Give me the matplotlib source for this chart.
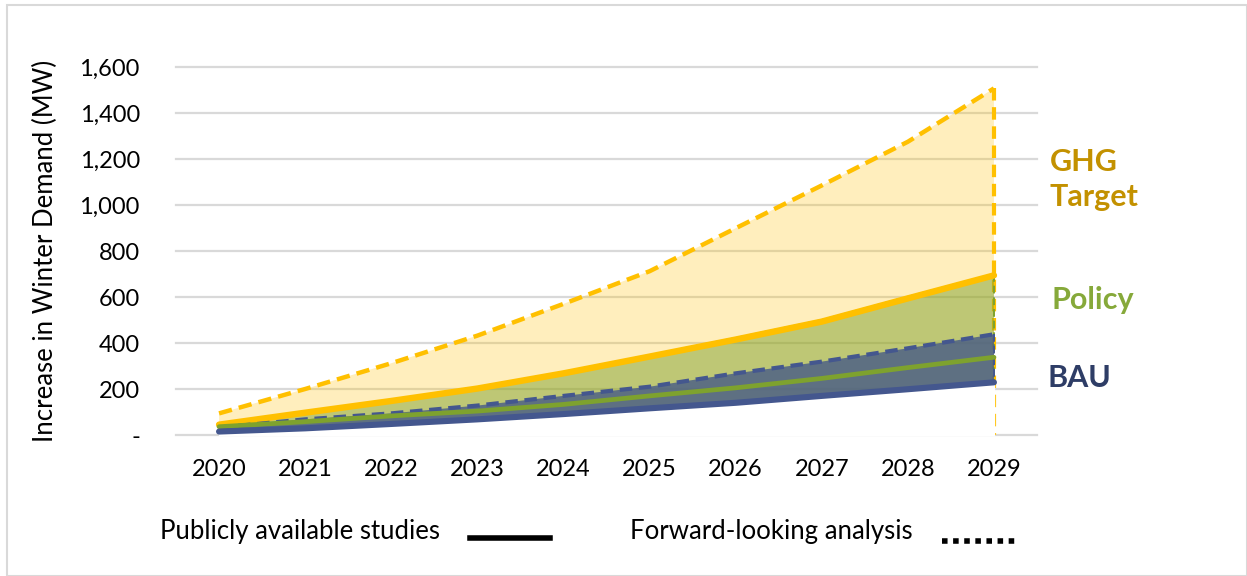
import numpy as np
import matplotlib
matplotlib.use('Agg')
import matplotlib.pyplot as plt
from matplotlib.lines import Line2D
from matplotlib.patches import Rectangle

plt.rcParams['font.family'] = ['Lato', 'DejaVu Sans']

# data (MW)
years = [2020, 2021, 2022, 2023, 2024, 2025, 2026, 2027, 2028, 2029]
ghg_forward = [94, 200, 312, 432, 570, 712, 899, 1085, 1275, 1507]
ghg_public = [45, 97, 148, 202, 268, 341, 415, 493, 594, 694]
policy_forward = [50, 102, 153, 208, 274, 347, 422, 500, 601, 700]
policy_public = [36, 58, 83, 104, 133, 170, 205, 246, 293, 338]
bau_forward = [32, 68, 94, 128, 170, 210, 268, 319, 377, 438]
bau_public = [15, 29, 48, 68, 91, 116, 140, 170, 199, 229]

yticks = [0, 200, 400, 600, 800, 1000, 1200, 1400, 1600]
ytick_labels = ['-', '200', '400', '600', '800', '1,000', '1,200', '1,400', '1,600']

W, H = 1247, 576
fig = plt.figure(figsize=(W / 100, H / 100), dpi=100)
ax = fig.add_axes([176 / W, (H - 435) / H, 861 / W, 368 / H])

orange = '#FFC000'
green = '#7EA22E'
navy = '#44578E'

x = np.array(years, dtype=float)


def area(vals, face, edge, lw, dash, z):
    # fill + outline on the right edge and the baseline (Excel area border)
    ax.fill_between(x, 0, vals, facecolor=face, edgecolor='none', zorder=z)
    ax.plot([x[-1], x[-1], x[0]], [vals[-1], 0, 0], color=edge, lw=lw,
            ls=(0, dash), zorder=z + 0.5)


# filled areas (forward-looking envelopes)
area(ghg_forward, (1.0, 0.753, 0.0, 0.26), orange, 3.0, (3, 1.6), 2)
area(policy_forward, (0.494, 0.635, 0.18, 0.5), green, 1.4, (4, 2), 3)
area(bau_forward, (0.275, 0.353, 0.525, 0.8), navy, 1.4, (4, 2), 4)
ax.fill_between(x, 0, bau_public, color='white', zorder=5)

# lines
ax.plot(x, ghg_forward, color=orange, lw=3.2, ls=(0, (3, 1.6)), zorder=6)
ax.plot(x, policy_forward, color=green, lw=1.4, ls=(0, (4, 2)), zorder=6)
ax.plot(x, ghg_public, color=orange, lw=4.6, solid_capstyle='round', zorder=7)
ax.plot(x, bau_forward, color=navy, lw=3.0, ls=(0, (3, 1.6)), zorder=7)
ax.plot(x, policy_public, color=green, lw=3.4, solid_capstyle='round', zorder=8)
ax.plot(x, bau_public, color=navy, lw=4.4, solid_capstyle='round', zorder=8)

# axes styling
ax.set_xlim(2019.5, 2029.5)
ax.set_ylim(0, 1600)
ax.set_yticks(yticks)
ax.set_yticklabels(ytick_labels)
ax.set_xticks(years)
ax.set_xticklabels([str(y) for y in years])
for s in ax.spines.values():
    s.set_visible(False)
ax.grid(axis='y', color='#D9D9D9', lw=1.6, zorder=1)
ax.set_axisbelow(True)
for gl in ax.get_ygridlines():
    gl.set_clip_on(False)
ax.tick_params(axis='both', length=0, labelsize=17, colors='black')
ax.tick_params(axis='y', pad=26)
ax.tick_params(axis='x', pad=17)
ax.set_ylabel('Increase in Winter Demand (MW)', fontsize=18.5)
ax.yaxis.set_label_coords(-0.137, 0.5)

# scenario labels
lab = dict(fontsize=22, fontweight='bold', va='center', ha='left',
           transform=None)
fig.text(1050, H - 162, 'GHG', color='#C39100', **lab)
fig.text(1050, H - 197, 'Target', color='#C39100', **lab)
fig.text(1052, H - 300, 'Policy', color='#86A93A', **lab)
fig.text(1048, H - 378, 'BAU', color='#2E3D66', **lab)

# custom legend at the bottom
fig.text(160 / W, (H - 532) / H, 'Publicly available studies', fontsize=18.5,
         va='center', ha='left')
fig.add_artist(Line2D([470 / W, 550 / W], [(H - 538) / H] * 2, color='black',
                      lw=4, transform=fig.transFigure))
fig.text(630 / W, (H - 532) / H, 'Forward-looking analysis', fontsize=18.5,
         va='center', ha='left')
fig.add_artist(Line2D([942 / W, 1018 / W], [(H - 541) / H] * 2, color='black',
                      lw=4, ls=(0, (1, 1)), transform=fig.transFigure))

# outer frame
fig.add_artist(Rectangle((7 / W, 0), (W - 7) / W, (H - 5) / H, fill=False,
                         edgecolor='#D9D9D9', lw=1.5,
                         transform=fig.transFigure))

fig.savefig('out.png', dpi=100)
